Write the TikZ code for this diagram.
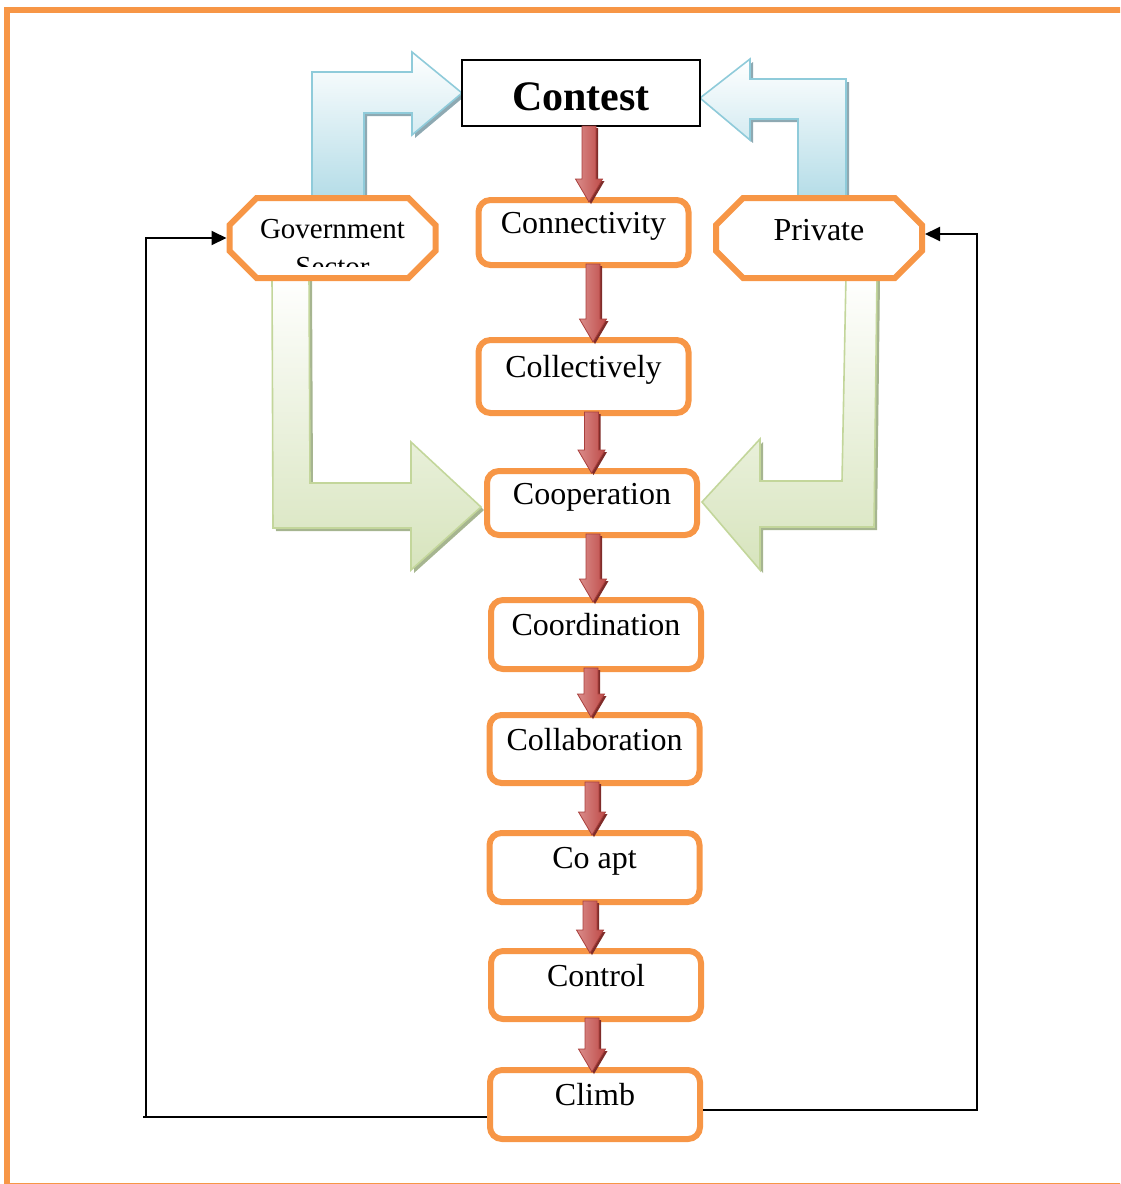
\documentclass[tikz,border=0pt]{standalone}
\usepackage{fontspec}
\setmainfont{Liberation Serif}
\usetikzlibrary{shapes.misc,calc,arrows.meta}
\definecolor{orng}{HTML}{F79646}
\definecolor{blueF}{HTML}{B3DCE7}
\definecolor{blueB}{HTML}{8FCBDA}
\definecolor{blueS}{HTML}{8EA9B2}
\definecolor{greenF}{HTML}{D7E4BD}
\definecolor{greenB}{HTML}{C3D69B}
\definecolor{greenS}{HTML}{A6B590}
\definecolor{redL}{HTML}{DA8C8A}
\definecolor{redD}{HTML}{BE4B48}
\definecolor{redB}{HTML}{A9403D}
\definecolor{redS}{HTML}{7F2C2A}
\pgfdeclarelayer{bg}
\pgfsetlayers{bg,main}
\newcommand\redarr[4]{%
  \path[fill=redS, transform canvas={shift={(1pt,-1pt)}}] let \p1=(#1.south), \p2=(#2.north), \p3=(#3,0) in
    ({\x3-3.5pt},{\y1+#4}) -- ({\x3+3.5pt},{\y1+#4}) -- ({\x3+3.5pt},{\y2+9pt}) -- ({\x3+6.75pt},{\y2+9pt})
    -- (\x3,{\y2-2.5pt}) -- ({\x3-6.75pt},{\y2+9pt}) -- ({\x3-3.5pt},{\y2+9pt}) -- cycle;
  \path[draw=redB, line width=0.4pt, left color=redL, right color=redD] let \p1=(#1.south), \p2=(#2.north), \p3=(#3,0) in
    ({\x3-3.5pt},{\y1+#4}) -- ({\x3+3.5pt},{\y1+#4}) -- ({\x3+3.5pt},{\y2+9pt}) -- ({\x3+6.75pt},{\y2+9pt})
    -- (\x3,{\y2-2.5pt}) -- ({\x3-6.75pt},{\y2+9pt}) -- ({\x3-3.5pt},{\y2+9pt}) -- cycle;
}
\newcommand\bluL[1]{\path[#1] ($(contest.west)+(1,0)$) -- ($(contest.west)+(-49,42)$) -- ($(contest.west)+(-49,20)$)
   -- ($(contest.west)+(-97,20)$) -- ($(gov.north)+(31.5,6)$) -- ($(gov.north)+(-20.5,6)$)
   -- ($(contest.west)+(-149,-21)$) -- ($(contest.west)+(-49,-21)$) -- ($(contest.west)+(-49,-41)$) -- cycle;}
\newcommand\bluR[1]{\path[#1] ($(contest.east)+(-1,5)$) -- ($(contest.east)+(49,-34)$) -- ($(contest.east)+(49,-14)$)
   -- ($(contest.east)+(145,-14)$) -- ($(priv.north)+(27,6)$) -- ($(priv.north)+(-21,6)$)
   -- ($(contest.east)+(97,26)$) -- ($(contest.east)+(49,26)$) -- ($(contest.east)+(49,47)$) -- cycle;}
\newcommand\grnL[1]{\path[#1] ($(gov.south)+(-60.5,-6)$) -- ($(gov.south)+(-23.5,-6)$) -- ($(coop.west)+(-174,-20)$)
   -- ($(coop.west)+(-73,-20)$) -- ($(coop.west)+(-73,-61)$) -- ($(coop.west)+(-3,4)$)
   -- ($(coop.west)+(-73,67)$) -- ($(coop.west)+(-73,25)$) -- ($(coop.west)+(-211,25)$) -- cycle;}
\newcommand\grnR[1]{\path[#1] ($(priv.south)+(27,-6)$) -- ($(priv.south)+(58,-6)$) -- ($(coop.east)+(174,24)$)
   -- ($(coop.east)+(60,24)$) -- ($(coop.east)+(60,67)$) -- ($(coop.east)+(2,-1)$)
   -- ($(coop.east)+(60,-64)$) -- ($(coop.east)+(60,-22)$) -- ($(coop.east)+(142,-22)$) -- cycle;}
\begin{document}
\begin{tikzpicture}[x=0.5pt,y=-0.5pt,
  box/.style={draw=orng, line width=3pt, rounded corners=6pt, fill=white, minimum width=105pt,
    text height=11pt, text depth=10pt, inner sep=1pt, font=\fontsize{16}{19}\selectfont},
  oct/.style={draw=orng, line width=3pt, chamfered rectangle, chamfered rectangle xsep=10.5pt,
    fill=white, minimum width=103pt, minimum height=40pt, inner sep=1pt},
  titlebox/.style={draw=black, line width=1pt, fill=white, minimum width=119pt, minimum height=33pt,
    inner sep=0pt, text height=20pt, text depth=3pt, font=\fontsize{21}{25}\selectfont\bfseries},
  conn/.style={draw=black, line width=1pt},
  tip/.style={-{Triangle[length=7.5pt,width=7pt]}}]
\useasboundingbox (0,0) rectangle (1120,1184);
\clip (0,0) rectangle (1120,1184);
\draw[orng, line width=3pt] (7,10) rectangle (1135,1185.5);

\node[titlebox] (contest) at (581,93) {Contest};
\node[oct, font=\fontsize{14.5}{17}\selectfont, text height=10pt, text depth=10pt] (gov) at (332.5,238) {Government};
\begin{scope}
  \clip (230,198) rectangle (435,266);
  \node[font=\fontsize{14.5}{17}\selectfont, anchor=base, inner sep=0pt] (sector) at (332.5,276) {Sector};
\end{scope}
\node[oct, font=\fontsize{16}{19}\selectfont, text height=11pt, text depth=9pt] (priv) at (819,238) {Private};

\node[box, minimum height=32.5pt] (conn) at (583.5,232.5) {Connectivity};
\node[box, minimum height=36.5pt] (coll) at (583.5,376.5) {Collectively};
\node[box, minimum height=32pt] (coop) at (592,503) {Cooperation};
\node[box, minimum height=34.5pt] (coord) at (596,634.5) {Coordination};
\node[box, minimum height=34pt] (collab) at (594.5,749) {Collaboration};
\node[box, minimum height=34.5pt] (coapt) at (594.5,867.5) {Co apt};
\node[box, minimum height=34pt] (ctrl) at (596,985) {Control};
\node[box, minimum height=34.5pt] (climb) at (595,1104.5) {Climb};

\begin{pgfonlayer}{bg}
  \bluL{fill=blueS, transform canvas={shift={(1.5pt,-1.5pt)}}}
  \bluL{draw=blueB, line width=0.8pt, top color=white, bottom color=blueF}
  \bluR{fill=blueS, transform canvas={shift={(1.5pt,-1.5pt)}}}
  \bluR{draw=blueB, line width=0.8pt, top color=white, bottom color=blueF}
  \grnL{fill=greenS, transform canvas={shift={(1.5pt,-1.5pt)}}}
  \grnL{draw=greenB, line width=0.8pt, top color=white, bottom color=greenF}
  \grnR{fill=greenS, transform canvas={shift={(1.5pt,-1.5pt)}}}
  \grnR{draw=greenB, line width=0.8pt, top color=white, bottom color=greenF}
\end{pgfonlayer}

\redarr{contest}{conn}{589}{0.5pt}
\redarr{conn}{coll}{593}{2pt}
\redarr{coll}{coop}{591.5}{2pt}
\redarr{coop}{coord}{593}{2pt}
\redarr{coord}{collab}{591}{2pt}
\redarr{collab}{coapt}{592}{2pt}
\redarr{coapt}{ctrl}{590}{2pt}
\redarr{ctrl}{climb}{592}{2pt}

\coordinate (lb) at (146,1117);
\coordinate (rb) at (977,1109.5);
\draw[conn] ($(climb.west)+(0,12.5)$) -- ($(lb)+(-3,0)$);
\draw[conn, tip] (lb) |- (gov.west);
\draw[conn, tip] ($(climb.east)+(0,5)$) -- (rb) |- ($(priv.east)+(0,-4)$);
\end{tikzpicture}
\end{document}
